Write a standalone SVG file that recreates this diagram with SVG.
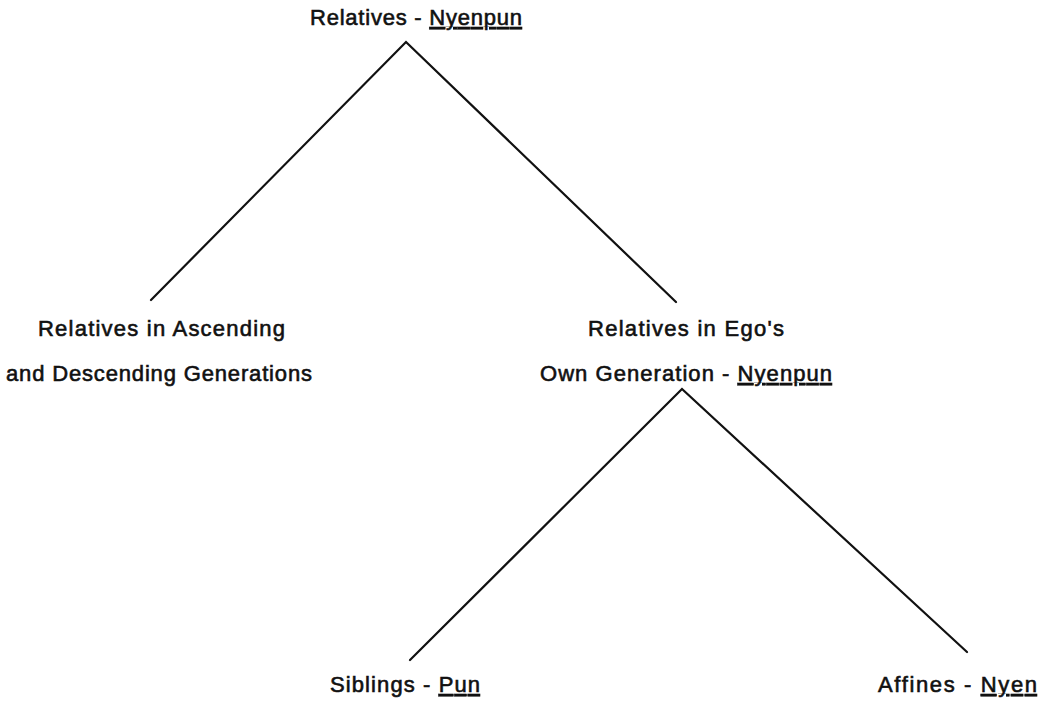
<svg xmlns="http://www.w3.org/2000/svg" width="1049" height="704" viewBox="0 0 1049 704">
  <style>
    .lbl { font-family: "Liberation Sans", Arial, sans-serif; font-size: 22px; fill: #111; stroke: #111; stroke-width: 0.6px; }
    .term { text-decoration: underline; }
    .edge { stroke: #111; stroke-width: 2.2; fill: none; stroke-linecap: round; }
  </style>
  <rect width="1049" height="704" fill="#fff"/>
  <g id="connectors">
    <polyline class="edge" points="151,300 406,42 676,302"/>
    <polyline class="edge" points="410,660 682,389 967,652"/>
  </g>
  <g id="node-relatives">
    <text class="lbl" x="310" y="25" textLength="212" lengthAdjust="spacing">Relatives - <tspan class="term">Nyenpun</tspan></text>
  </g>
  <g id="node-other-generations">
    <text class="lbl" x="38" y="336" textLength="247" lengthAdjust="spacing">Relatives in Ascending</text>
    <text class="lbl" x="6" y="381" textLength="306" lengthAdjust="spacing">and Descending Generations</text>
  </g>
  <g id="node-own-generation">
    <text class="lbl" x="588" y="336" textLength="196" lengthAdjust="spacing">Relatives in Ego's</text>
    <text class="lbl" x="540" y="381" textLength="292" lengthAdjust="spacing">Own Generation - <tspan class="term">Nyenpun</tspan></text>
  </g>
  <g id="node-siblings">
    <text class="lbl" x="330" y="692" textLength="150" lengthAdjust="spacing">Siblings - <tspan class="term">Pun</tspan></text>
  </g>
  <g id="node-affines">
    <text class="lbl" x="878" y="692" textLength="159" lengthAdjust="spacing">Affines - <tspan class="term">Nyen</tspan></text>
  </g>
</svg>
